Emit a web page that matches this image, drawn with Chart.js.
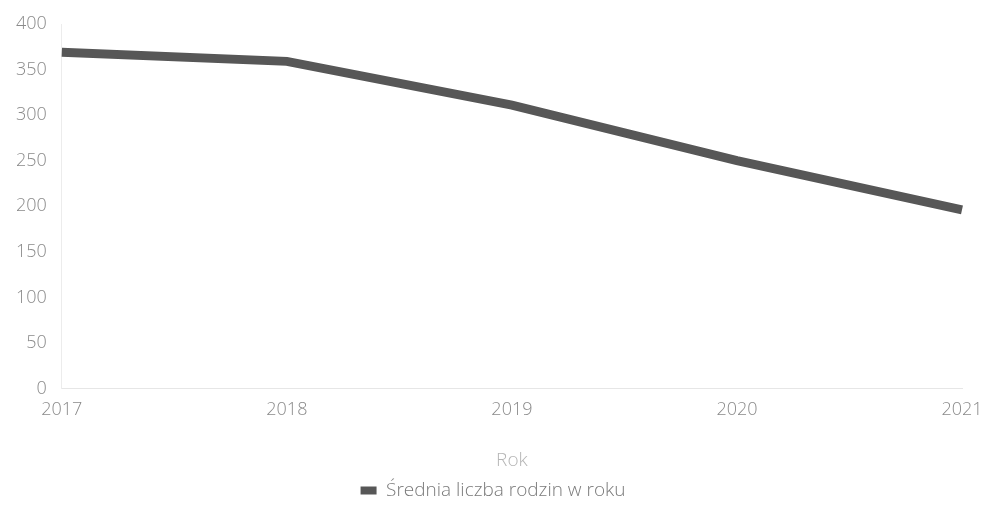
<!DOCTYPE html>
<html>
<head>
<meta charset="utf-8">
<script src="https://cdn.jsdelivr.net/npm/chart.js@4"></script>
<style>
  html, body { margin: 0; padding: 0; background: #fff; }
  #wrap { width: 985px; height: 516px; }
</style>
</head>
<body>
<div id="wrap"><canvas id="chart"></canvas></div>
<script>
// chart data
const years = ["2017", "2018", "2019", "2020", "2021"];
const families = [369, 359, 311, 250, 196];
const seriesName = "Średnia liczba rodzin w roku";
const xTitle = "Rok";

const ctx = document.getElementById("chart").getContext("2d");
new Chart(ctx, {
  type: 'line',
  data: {
    labels: years,
    datasets: [{
      label: seriesName,
      data: families,
      borderColor: "#575757",
      backgroundColor: "#575757",
      borderWidth: 9,
      pointRadius: 0,
      tension: 0,
      fill: false
    }]
  },
  options: {
    responsive: true,
    maintainAspectRatio: false,
    animation: false,
    layout: { padding: { top: 5, right: 0, left: 1, bottom: 6 } },
    plugins: {
      legend: {
        position: 'bottom',
        labels: {
          boxWidth: 16,
          boxHeight: 8,
          color: "#7a7a7a",
          font: { family: "Open Sans", size: 19, weight: 300 },
          padding: 7,
          // no thick outline around the legend box
          generateLabels: function(chart) {
            const items = Chart.defaults.plugins.legend.labels.generateLabels(chart);
            items.forEach(it => { it.lineWidth = 0; });
            return items;
          }
        }
      },
      tooltip: { enabled: false }
    },
    scales: {
      x: {
        offset: false,
        grid: { display: false, drawTicks: false },
        border: { color: "#e6e6e6" },
        afterFit: s => { s.paddingRight = 23; },
        ticks: {
          color: "#8a8a8a",
          font: { family: "Open Sans", size: 18, weight: 300 },
          padding: 10,
          maxRotation: 0
        },
        title: {
          display: true,
          text: xTitle,
          color: "#b5b5b5",
          font: { family: "Open Sans", size: 19, weight: 300 },
          padding: { top: 19, bottom: 2 }
        }
      },
      y: {
        min: 0,
        max: 400,
        grid: { display: false, drawTicks: false },
        border: { color: "#ececec" },
        afterFit: s => { s.paddingTop = 24; },
        ticks: {
          stepSize: 50,
          color: "#8a8a8a",
          font: { family: "Open Sans", size: 18, weight: 300 },
          padding: 15
        }
      }
    }
  }
});
</script>
</body>
</html>
